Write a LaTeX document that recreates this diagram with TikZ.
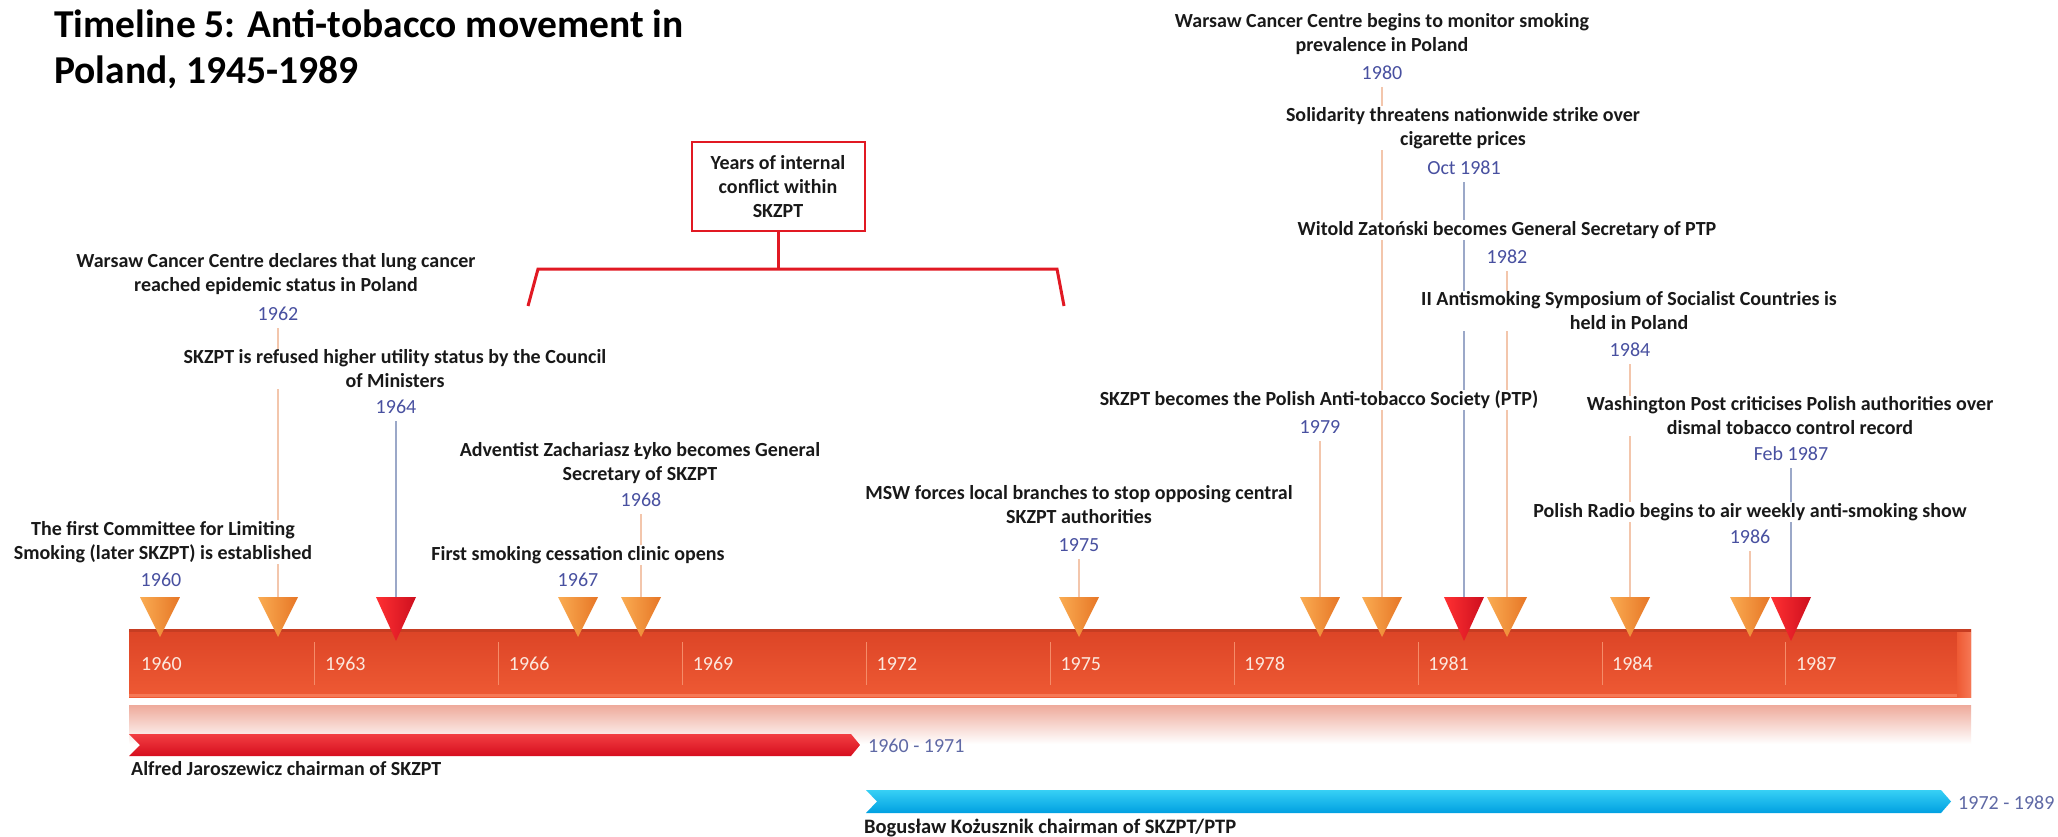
\documentclass[tikz,border=0pt]{standalone}
\usepackage{fontspec}
\setmainfont{Carlito}
\definecolor{barmain}{RGB}{232,80,45}
\definecolor{bartop}{RGB}{220,68,38}
\definecolor{barbot}{RGB}{238,90,52}
\definecolor{barlight}{RGB}{246,120,85}
\definecolor{tickc}{RGB}{245,140,105}
\definecolor{yearw}{RGB}{252,232,222}
\definecolor{orgL}{RGB}{250,172,82}
\definecolor{orgR}{RGB}{230,118,38}
\definecolor{redL}{RGB}{255,48,50}
\definecolor{redR}{RGB}{205,15,30}
\definecolor{yearblue}{RGB}{72,80,160}
\definecolor{rangeblue}{RGB}{95,105,165}
\definecolor{lineorg}{RGB}{243,198,172}
\definecolor{lineblue}{RGB}{155,168,200}
\definecolor{brk}{RGB}{225,25,35}
\definecolor{refl}{RGB}{238,170,155}
\definecolor{rbarT}{RGB}{242,62,66}
\definecolor{rbarB}{RGB}{214,14,30}
\definecolor{cbarT}{RGB}{55,208,245}
\definecolor{cbarB}{RGB}{0,160,225}
\definecolor{txt}{RGB}{25,25,25}
\newcommand\omark[2]{\coordinate (#1) at (#2,597);
  \shade[left color=orgL, right color=orgR] (#2-20,597) -- (#2+20,597) -- (#2,637) -- cycle;}
\newcommand\rmark[2]{\coordinate (#1) at (#2,597);
  \shade[left color=redL, right color=redR] (#2-20,597) -- (#2+20,597) -- (#2,641) -- cycle;}
\begin{document}
\begin{tikzpicture}[x=1pt,y=-1pt,
  evt/.style={font=\bfseries\fontsize{20}{24}\selectfont, align=center, fill=white, inner sep=1pt, text=txt},
  yr/.style={font=\fontsize{20}{24}\selectfont, text=yearblue, fill=white, inner sep=1pt},
  barlab/.style={font=\fontsize{20}{24}\selectfont, text=yearw, anchor=west, inner sep=0pt},
  lo/.style={draw=lineorg, line width=1.1pt},
  lb/.style={draw=lineblue, line width=1.1pt},
  ttl/.style={font=\bfseries\fontsize{39.5}{46}\selectfont, anchor=base west, inner sep=0pt, text=black}]
\useasboundingbox (0,0) rectangle (2058,837);
\fill[white] (0,0) rectangle (2058,837);

% title
\node[ttl] (t1) at (54,38) {Timeline 5: Anti-tobacco movement in};
\node[ttl] (t2) at (54,84) {Poland, 1945-1989};

% reflection
\shade[top color=refl, bottom color=white] (129,705) rectangle (1971,744);

% main bar
\shade[top color=bartop, bottom color=barbot] (129,629) rectangle (1971,697);
\fill[barlight] (129,694) rectangle (1971,697);
\shade[left color=barbot, right color=barlight] (1957,629) rectangle (1971,697);
\fill[bartop!90!black] (129,629) -- (1971,629) -- (1971,632) -- (129,632) -- cycle;

% ticks and bar labels
\foreach \i/\yy in {1/1963,2/1966,3/1969,4/1972,5/1975,6/1978,7/1981,8/1984,9/1987}{
  \draw[tickc, line width=0.8pt] ({131+61.29*(\yy-1960)},642) -- ({131+61.29*(\yy-1960)},685);
  \node[barlab] (b\yy) at ({141+61.29*(\yy-1960)},664) {\yy};
}
\node[barlab] (b1960) at (141,664) {1960};

% chairman bars
\shade[top color=rbarT, bottom color=rbarB] (129,734) -- (851,734) -- (860,745) -- (851,756) -- (129,756) -- (140,745) -- cycle;
\shade[top color=cbarT, bottom color=cbarB] (866,790) -- (1941,790) -- (1951,801.5) -- (1941,813) -- (866,813) -- (877,801.5) -- cycle;
\node[font=\fontsize{20}{24}\selectfont, text=rangeblue, anchor=west, inner sep=0pt] (r1) at (868,746) {1960 - 1971};
\node[font=\fontsize{20}{24}\selectfont, text=rangeblue, anchor=west, inner sep=0pt] (r2) at (1958,803) {1972 - 1989};
\node[font=\bfseries\fontsize{20}{24}\selectfont, text=txt, anchor=base west, inner sep=0pt] (c1) at (131,775) {Alfred Jaroszewicz chairman of SKZPT};
\node[font=\bfseries\fontsize{20.5}{24}\selectfont, text=txt, anchor=base west, inner sep=0pt] (c2) at (864,833) {Bogusław Kożusznik chairman of SKZPT/PTP};

% marker coordinates (tops)
\coordinate (m1) at (160,597);
\coordinate (m2) at (278,597);
\coordinate (m3) at (396,597);
\coordinate (m4) at (578,597);
\coordinate (m5) at (641,597);
\coordinate (m6) at (1079,597);
\coordinate (m7) at (1320,597);
\coordinate (m8) at (1382,597);
\coordinate (m9) at (1464,597);
\coordinate (m10) at (1507,597);
\coordinate (m11) at (1630,597);
\coordinate (m12) at (1750,597);
\coordinate (m13) at (1791,597);

% year label nodes
\node[yr] (y1) at (161,580) {1960};
\node[yr] (y2) at (278,314) {1962};
\node[yr] (y3) at (396,407) {1964};
\node[yr] (y4) at (578,580) {1967};
\node[yr] (y5) at (641,500) {1968};
\node[yr] (y6) at (1079,545) {1975};
\node[yr] (y7) at (1320,427) {1979};
\node[yr] (y8) at (1382,73) {1980};
\node[yr] (y9) at (1464,168) {Oct 1981};
\node[yr] (y10) at (1507,257) {1982};
\node[yr] (y11) at (1630,350) {1984};
\node[yr] (y12) at (1750,537) {1986};
\node[yr] (y13) at (1791,454) {Feb 1987};

% leader lines
\draw[lo] (m2) -- ([yshift=-6pt]y2.south);
\draw[lb] (m3) -- ([yshift=-6pt]y3.south);
\draw[lo] (m5) -- ([yshift=-6pt]y5.south);
\draw[lo] (m6) -- ([yshift=-6pt]y6.south);
\draw[lo] (m7) -- ([yshift=-6pt]y7.south);
\draw[lo] (m8) -- ([yshift=-6pt]y8.south);
\draw[lb] (m9) -- ([yshift=-6pt]y9.south);
\draw[lo] (m10) -- ([yshift=-6pt]y10.south);
\draw[lo] (m11) -- ([yshift=-6pt]y11.south);
\draw[lo] (m12) -- ([yshift=-6pt]y12.south);
\draw[lb] (m13) -- ([yshift=-6pt]y13.south);

% event labels
\node[evt] (e2) at (276,274) {Warsaw Cancer Centre declares that lung cancer\\reached epidemic status in Poland};
\node[evt] (e3) at (395,369) {SKZPT is refused higher utility status by the Council\\of Ministers};
\node[evt] (e5) at (640,463) {Adventist Zachariasz Łyko becomes General\\Secretary of SKZPT};
\node[evt] (e1) at (163,542) {The first Committee for Limiting\\Smoking (later SKZPT) is established};
\node[evt] (e4) at (578,555) {First smoking cessation clinic opens};
\node[evt] (e6) at (1079,505) {MSW forces local branches to stop opposing central\\SKZPT authorities};
\node[evt] (e7) at (1319,400) {SKZPT becomes the Polish Anti-tobacco Society (PTP)};
\node[evt] (e8) at (1382,34) {Warsaw Cancer Centre begins to monitor smoking\\prevalence in Poland};
\node[evt] (e9) at (1463,128) {Solidarity threatens nationwide strike over\\cigarette prices};
\node[evt] (e10) at (1507,230) {Witold Zatoński becomes General Secretary of PTP};
\node[evt] (e11) at (1629,311) {II Antismoking Symposium of Socialist Countries is\\held in Poland};
\node[evt] (e13) at (1790,416) {Washington Post criticises Polish authorities over\\dismal tobacco control record};
\node[evt] (e12) at (1750,512) {Polish Radio begins to air weekly anti-smoking show};

% markers
\omark{k1}{160}
\omark{k2}{278}
\rmark{k3}{396}
\omark{k4}{578}
\omark{k5}{641}
\omark{k6}{1079}
\omark{k7}{1320}
\omark{k8}{1382}
\rmark{k9}{1464}
\omark{k10}{1507}
\omark{k11}{1630}
\omark{k12}{1750}
\rmark{k13}{1791}

% conflict bracket
\node[evt, draw=brk, line width=2pt, minimum width=173pt, minimum height=89pt, inner sep=2pt] (box) at (778,186.5) {Years of internal\\conflict within\\SKZPT};
\coordinate (bm) at (778,269);
\coordinate (bl) at (538,269);
\coordinate (br) at (1057,269);
\coordinate (bll) at (528,306);
\coordinate (brr) at (1064,306);
\draw[brk, line width=3pt] (box.south) -- (bm);
\draw[brk, line width=3pt, line join=miter] (bll) -- (bl) -- (br) -- (brr);
\end{tikzpicture}
\end{document}
